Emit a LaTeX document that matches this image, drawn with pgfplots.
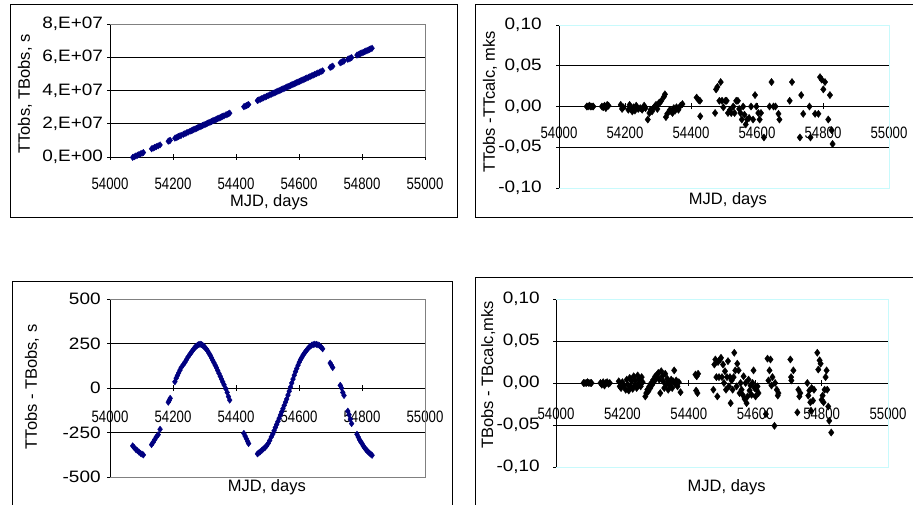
\documentclass[border=0pt]{standalone}
\usepackage{fontspec}
\setmainfont{Liberation Sans}
\usepackage{pgfplots}
\usepackage{pgfplotstable}
\pgfplotsset{compat=1.18}
\definecolor{navy}{RGB}{0,0,128}
\definecolor{plotgray}{RGB}{128,128,128}
\definecolor{plotcyan}{RGB}{200,250,252}
\newcommand{\lbl}{\fontsize{16.5bp}{18bp}\selectfont}

% MJD, TTobs (s), TTobs-TBobs (s)
\pgfplotstableread{
mjd tt dt
54072 -259200 -325
54077 172800 -335
54082 604800 -345
54087 1036800 -352
54092 1468800 -360
54097 1900800 -367
54102 2332800 -372
54106 2678400 -376
54132 4924800 -318
54137 5356800 -305
54142 5788800 -290
54147 6220800 -275
54153 6739200 -262
54159 7257600 -232
54185 9504000 -80
54188 9763200 -70
54191 10022400 -58
54206 11318400 35
54210 11664000 55
54214 12009600 70
54218 12355200 85
54222 12700800 100
54226 13046400 115
54233 13651200 132
54238 14083200 145
54243 14515200 160
54248 14947200 175
54254 15465600 190
54258 15811200 200
54262 16156800 210
54266 16502400 220
54270 16848000 228
54274 17193600 235
54278 17539200 240
54282 17884800 244
54286 18230400 246
54290 18576000 244
54294 18921600 240
54298 19267200 234
54302 19612800 226
54306 19958400 218
54310 20304000 208
54314 20649600 196
54318 20995200 184
54322 21340800 170
54326 21686400 156
54330 22032000 142
54334 22377600 128
54338 22723200 114
54342 23068800 98
54346 23414400 82
54350 23760000 66
54354 24105600 50
54358 24451200 34
54362 24796800 18
54368 25315200 -5
54372 25660800 -25
54376 26006400 -48
54380 26352000 -68
54425 30240000 -255
54429 30585600 -270
54433 30931200 -285
54437 31276800 -300
54440 31536000 -312
54468 33955200 -370
54472 34300800 -365
54477 34732800 -358
54482 35164800 -350
54487 35596800 -342
54492 36028800 -335
54497 36460800 -325
54502 36892800 -312
54507 37324800 -295
54512 37756800 -275
54517 38188800 -258
54521 38534400 -240
54525 38880000 -222
54529 39225600 -205
54533 39571200 -188
54537 39916800 -170
54541 40262400 -152
54545 40608000 -134
54549 40953600 -116
54553 41299200 -98
54557 41644800 -80
54561 41990400 -62
54565 42336000 -40
54569 42681600 -18
54573 43027200 5
54577 43372800 28
54581 43718400 50
54585 44064000 72
54589 44409600 92
54593 44755200 110
54597 45100800 128
54601 45446400 145
54605 45792000 160
54609 46137600 172
54613 46483200 185
54617 46828800 195
54621 47174400 205
54625 47520000 214
54630 47952000 225
54635 48384000 234
54640 48816000 240
54645 49248000 244
54650 49680000 246
54655 50112000 245
54660 50544000 243
54665 50976000 238
54670 51408000 230
54675 51840000 220
54699 53913600 140
54703 54259200 128
54707 54604800 115
54731 56678400 15
54735 57024000 0
54739 57369600 -25
54743 57715200 -42
54755 58752000 -130
54759 59097600 -150
54763 59443200 -175
54767 59788800 -200
54784 61257600 -260
54788 61603200 -275
54792 61948800 -290
54796 62294400 -302
54800 62640000 -312
54804 62985600 -325
54808 63331200 -335
54812 63676800 -345
54816 64022400 -352
54820 64368000 -360
54824 64713600 -366
54828 65059200 -372
54832 65404800 -378
}\tabA

% TTobs - TTcalc (mks)
\pgfplotstableread{
mjd r
54084 0
54088 0
54092 0.001
54096 0
54100 0
54104 0
54130 0
54134 -0.001
54138 0.001
54142 -0.002
54146 0.002
54150 0.001
54187 0.002
54191 -0.003
54195 -0.001
54210 -0.004
54214 0.002
54218 -0.003
54222 -0.006
54226 -0.001
54230 -0.005
54234 0.001
54240 -0.003
54246 -0.002
54252 -0.004
54258 0.001
54262 -0.002
54269 -0.016
54274 -0.008
54278 -0.004
54282 -0.006
54286 -0.002
54290 0.000
54294 0.002
54298 -0.003
54302 0.004
54306 0.005
54310 0.007
54318 0.012
54321 0.015
54324 -0.013
54328 -0.009
54336 -0.004
54340 -0.006
54344 -0.008
54348 -0.002
54352 -0.005
54356 -0.001
54362 -0.004
54368 0.001
54374 0.003
54417 0.011
54423 0.008
54427 0.007
54428 -0.012
54473 -0.008
54476 0.021
54480 0.024
54486 0.007
54490 0.030
54494 0.007
54498 -0.001
54504 0.007
54508 0.007
54512 -0.008
54518 -0.004
54522 -0.008
54528 0.000
54532 -0.008
54537 0.007
54542 0.007
54546 -0.003
54550 -0.008
54554 -0.016
54558 0.000
54562 -0.010
54566 -0.022
54570 -0.016
54576 -0.014
54582 0.000
54588 -0.016
54594 0.014
54598 0.000
54604 -0.008
54608 -0.016
54612 -0.008
54621 -0.038
54638 0.000
54644 0.030
54650 0.000
54656 0.000
54665 -0.009
54668 -0.016
54699 0.007
54706 0.030
54730 -0.038
54734 0.014
54740 -0.009
54759 0.000
54762 -0.038
54776 -0.009
54786 -0.009
54791 0.036
54796 0.033
54801 0.021
54806 0.030
54816 -0.016
54821 0.014
54826 -0.029
54829 -0.046
}\tabB

% TBobs - TBcalc (mks)
\pgfplotstableread{
mjd r
54083 0
54087 0
54091 0
54095 0.001
54099 0
54103 0
54107 0
54134 0
54138 -0.002
54142 0.001
54146 -0.003
54150 0
54154 0.001
54158 -0.001
54162 0
54189 0.002
54192 -0.004
54196 -0.006
54200 0.001
54204 -0.003
54210 -0.008
54213 0.004
54216 -0.002
54219 -0.009
54222 0.006
54225 -0.005
54228 0.002
54231 -0.007
54234 0.008
54237 -0.003
54240 0.003
54243 -0.006
54246 0.009
54249 -0.001
54252 0.005
54255 -0.004
54258 0.007
54261 0.001
54269 -0.016
54272 -0.012
54275 -0.008
54278 -0.010
54281 -0.004
54284 -0.006
54287 0.000
54290 -0.002
54293 0.004
54296 0.002
54299 0.008
54302 0.006
54305 0.010
54308 0.012
54311 0.004
54314 -0.012
54317 0.014
54320 0.008
54323 0.002
54326 -0.006
54329 0.011
54332 -0.002
54335 0.005
54338 -0.008
54341 0.001
54344 -0.003
54347 0.004
54350 -0.006
54353 0.002
54356 0.015
54359 -0.001
54362 0.003
54366 -0.004
54370 0.001
54375 -0.011
54420 0.010
54424 0.008
54428 0.011
54422 -0.009
54426 -0.012
54474 -0.008
54477 0.022
54480 0.028
54483 0.007
54486 -0.016
54488 0.025
54491 0.007
54494 0.028
54497 0.030
54500 0.007
54503 0.022
54506 0.000
54509 0.014
54512 -0.008
54515 0.007
54518 0.026
54521 -0.004
54524 0.007
54526 -0.024
54529 0.003
54532 -0.008
54535 0.007
54537 0.036
54540 0.015
54544 -0.004
54546 0.023
54550 0.015
54553 -0.012
54556 0.000
54559 -0.008
54562 -0.014
54565 0.008
54568 -0.019
54571 0.000
54574 -0.024
54577 -0.016
54580 0.004
54583 -0.009
54586 -0.003
54589 -0.014
54592 0.000
54595 0.015
54598 -0.006
54601 -0.016
54604 -0.008
54607 -0.004
54610 -0.012
54632 -0.037
54637 0.029
54640 0.003
54643 0.015
54646 0.028
54649 -0.003
54652 0.007
54658 -0.051
54660 0.000
54665 -0.008
54668 -0.015
54670 -0.012
54706 0.028
54708 0.007
54709 0.003
54715 0.015
54727 -0.035
54730 -0.008
54733 -0.016
54736 -0.012
54757 0.000
54760 -0.015
54763 -0.009
54766 -0.023
54768 -0.033
54770 -0.006
54774 -0.021
54777 -0.008
54787 0.036
54790 0.016
54794 0.027
54797 0.023
54800 -0.020
54803 -0.015
54806 -0.023
54809 -0.008
54812 0.007
54815 0.015
54817 -0.008
54820 -0.028
54823 -0.045
54829 -0.059
}\tabC

\pgfplotsset{
  excel/.style={
    scale only axis, anchor=south west,
    xmin=54000, xmax=55000,
    xtick={54000,54200,54400,54600,54800,55000},
    xticklabels={54000,54200,54400,54600,54800,55000},
    scaled ticks=false,
    tick align=outside,
    major tick length=6bp,
    tick style={black, line width=0.9bp},
    axis line style={black, line width=0.9bp, -},
    grid style={black, line width=0.9bp},
    /pgf/number format/assume math mode=true,
    ticklabel style={font=\lbl},
    xticklabel style={xscale=0.8},
    yticklabel style={xscale=1.15},
    label style={font=\lbl},
    hide obscured x ticks=false, hide obscured y ticks=false,
    clip=false,
    extra y tick style={grid=major, major tick length=0pt},
    extra y tick labels={},
  },
  noarrows/.style={
    every outer x axis line/.append style={-},
    every outer y axis line/.append style={-},
    every inner x axis line/.append style={-},
    every inner y axis line/.append style={-},
  },
}

\begin{document}
\begin{tikzpicture}
\path[use as bounding box] (0,0) rectangle (913bp,505bp);
% panel frames
\draw[black, line width=1bp] (10bp,500bp) rectangle (457bp,287bp);
\draw[black, line width=1bp] (475bp,500bp) rectangle (915bp,287bp);
\draw[black, line width=1bp] (12bp,223bp) rectangle (452bp,-3bp);
\draw[black, line width=1bp] (475bp,227bp) rectangle (915bp,-3bp);

% top left
\begin{axis}[excel, at={(110bp,348bp)}, width=315bp, height=133bp,
  axis x line=bottom, axis y line=left, noarrows,
  ymin=0, ymax=8e7, ytick={0,2e7,4e7,6e7,8e7},
  yticklabels={{0,E+00},{2,E+07},{4,E+07},{6,E+07},{8,E+07}},
  extra y ticks={2e7,4e7,6e7},
  xticklabel style={yshift=-14bp},
  xlabel={MJD, days}, ylabel={TTobs, TBobs, s},
  xlabel style={at={(axis description cs:0.505,-0.338)}, anchor=center, font=\lbl},
  ylabel style={at={(axis description cs:-0.27,0.474)}, anchor=center, font=\lbl},
]
\draw[plotgray, line width=0.9bp] (rel axis cs:0,1) -- (rel axis cs:1,1) -- (rel axis cs:1,0);
\addplot[only marks, mark=diamond*, mark size=3.2bp, color=navy] table[x=mjd, y=tt] {\tabA};
\end{axis}

% top right
\begin{axis}[excel, at={(559bp,317bp)}, width=330bp, height=163bp,
  axis x line=middle, axis y line=left, noarrows,
  ymin=-0.1, ymax=0.1, ytick={-0.1,-0.05,0,0.05,0.1},
  yticklabels={{-0,10},{-0,05},{0,00},{0,05},{0,10}},
  extra y ticks={-0.05,0.05},
  yticklabel style={xshift=-9bp},
  xticklabel style={yshift=-14bp},
  xlabel={MJD, days}, ylabel={TTobs -TTcalc, mks},
  xlabel style={at={(axis description cs:0.512,-0.074)}, anchor=center, font=\lbl},
  ylabel style={at={(axis description cs:-0.209,0.528)}, anchor=center, font=\lbl},
]
\draw[plotcyan, line width=0.9bp] (rel axis cs:0,1) -- (rel axis cs:1,1) -- (rel axis cs:1,0) -- (rel axis cs:0,0);
\addplot[only marks, mark=diamond*, mark size=3.6bp, color=black] table[x=mjd, y=r] {\tabB};
\end{axis}

% bottom left
\begin{axis}[excel, at={(110bp,28bp)}, width=315bp, height=178bp,
  axis x line=middle, axis y line=left, noarrows,
  ymin=-500, ymax=500, ytick={-500,-250,0,250,500},
  yticklabels={-500,-250,0,250,500},
  extra y ticks={-250,250},
  yticklabel style={xshift=-2bp},
  xticklabel style={yshift=-16bp},
  xlabel={MJD, days}, ylabel={TTobs - TBobs, s},
  xlabel style={at={(axis description cs:0.498,-0.056)}, anchor=center, font=\lbl},
  ylabel style={at={(axis description cs:-0.248,0.506)}, anchor=center, font=\lbl},
]
\draw[plotgray, line width=0.9bp] (rel axis cs:0,1) -- (rel axis cs:1,1) -- (rel axis cs:1,0) -- (rel axis cs:0,0);
\addplot[only marks, mark=diamond*, mark size=3.2bp, color=navy] table[x=mjd, y=dt] {\tabA};
\end{axis}

% bottom right
\begin{axis}[excel, at={(556bp,38bp)}, width=332bp, height=168bp,
  axis x line=middle, axis y line=left, noarrows,
  ymin=-0.1, ymax=0.1, ytick={-0.1,-0.05,0,0.05,0.1},
  yticklabels={{-0,10},{-0,05},{0,00},{0,05},{0,10}},
  extra y ticks={-0.05,0.05},
  yticklabel style={xshift=-8bp},
  xticklabel style={yshift=-18bp},
  xlabel={MJD, days}, ylabel={TBobs - TBcalc,mks},
  xlabel style={at={(axis description cs:0.514,-0.119)}, anchor=center, font=\lbl},
  ylabel style={at={(axis description cs:-0.204,0.548)}, anchor=center, font=\lbl},
]
\draw[plotcyan, line width=0.9bp] (rel axis cs:0,1) -- (rel axis cs:1,1) -- (rel axis cs:1,0) -- (rel axis cs:0,0);
\addplot[only marks, mark=diamond*, mark size=3.6bp, color=black] table[x=mjd, y=r] {\tabC};
\end{axis}
\end{tikzpicture}
\end{document}
